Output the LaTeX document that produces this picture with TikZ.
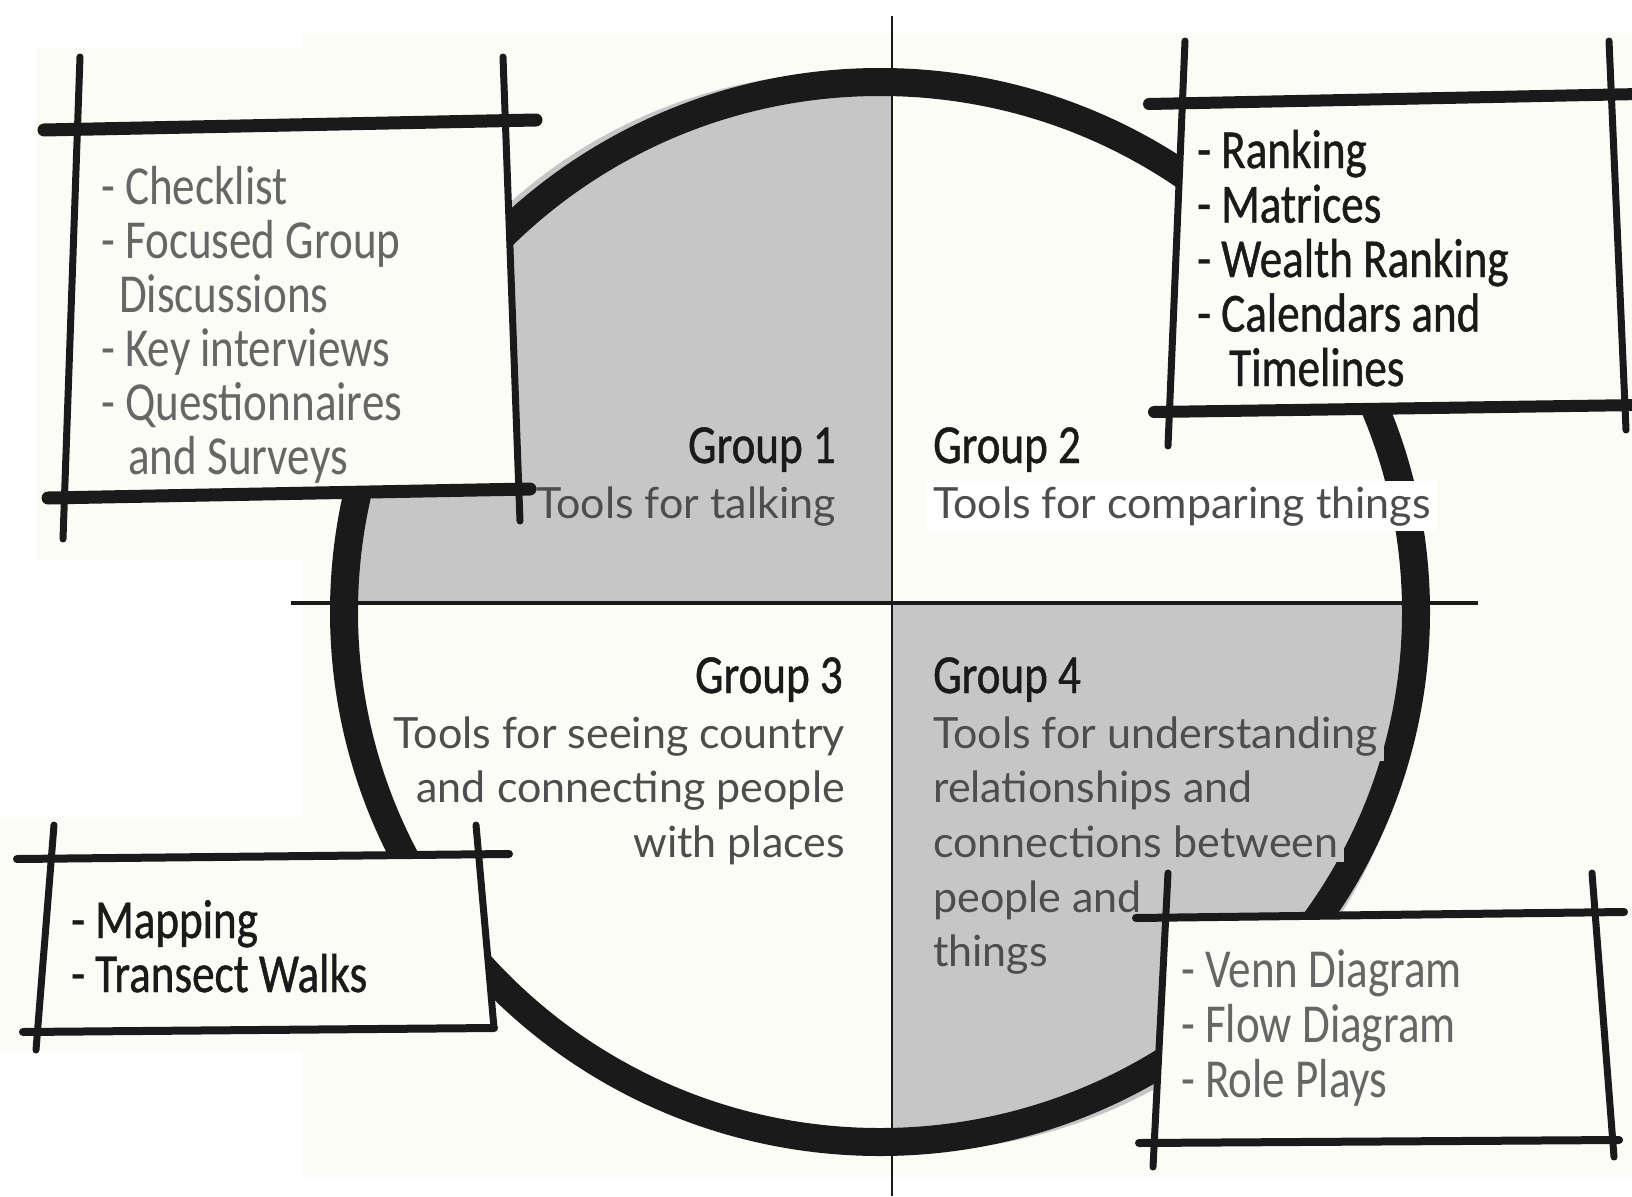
\documentclass[tikz,border=0pt]{standalone}
\usepackage{fontspec}
\setmainfont{Lato}
\newfontfamily\handfont[FakeStretch=0.82]{Carlito}
\newfontfamily\inkfont[FakeStretch=0.82, FakeBold=0.8]{Carlito}

\definecolor{ink}{HTML}{1A1A1A}
\definecolor{quadgray}{HTML}{C6C6C6}
\definecolor{paper}{HTML}{FCFCF6}
\definecolor{softgray}{HTML}{666666}
\definecolor{bodygray}{HTML}{4D4D4D}

\begin{document}
\begin{tikzpicture}[x=1pt, y=-1pt,
    hand/.style={font=\handfont\fontsize{55}{55}\selectfont, inner sep=0pt, anchor=base west},
    inkhand/.style={hand, font=\inkfont\fontsize{55}{55}\selectfont, text=ink},
    grouptitle/.style={font=\inkfont\fontsize{55}{55}\selectfont, text=ink, inner sep=0pt},
    body/.style={font=\fontsize{43}{54}\selectfont, text=bodygray, inner sep=0pt},
    bodyfill/.style={body, fill=#1, inner xsep=6pt, inner ysep=5pt, anchor=base west},
    rough/.style={draw=ink, line width=#1, line cap=round}
]
    \useasboundingbox (0,0) rectangle (1632,1196);

    % paper
    \fill[white] (0,0) rectangle (1632,1196);
    \fill[paper] (302,33) rectangle (1632,1177);
    \fill[paper] (36,48) rectangle (302,560);
    \fill[paper] (0,817) rectangle (302,1052);

    % shaded quarters
    \begin{scope}
        \clip (0,0) rectangle (892,603) (892,603) rectangle (1632,1196);
        \fill[quadgray, rotate around={-45:(880,612)}] (880,612) ellipse [x radius=552, y radius=528];
    \end{scope}

    % wheel and cross
    \draw[ink, line width=28] (880,612) ellipse [x radius=536, y radius=530];
    \draw[ink, line width=2] (892,16) -- (892,1196);
    \draw[ink, line width=3.5] (291,603) -- (1478,603);

    % group texts
    \node[grouptitle, anchor=base east] (g1) at (836,463) {Group 1};
    \node[body, anchor=base east] (g1t) at (836,518) {Tools for talking};

    \node[grouptitle, anchor=base west] (g2) at (933,463) {Group 2};
    \node[bodyfill=white] (g2t) at (927,518) {Tools for comparing things};

    \node[grouptitle, anchor=base east] (g3) at (843,693) {Group 3};
    \node[body, anchor=base east] (g3a) at (845,748) {Tools for seeing country};
    \node[body, anchor=base east] (g3b) at (845,802) {and connecting people};
    \node[body, anchor=base east] (g3c) at (845,857) {with places};

    \node[grouptitle, anchor=base west] (g4) at (933,693) {Group 4};
    \node[bodyfill=quadgray] (g4a) at (927,748) {Tools for understanding};
    \node[bodyfill=quadgray] (g4b) at (927,802) {relationships and};
    \node[bodyfill=quadgray] (g4c) at (927,857) {connections between};
    \node[bodyfill=quadgray] (g4d) at (927,912) {people and};
    \node[bodyfill=quadgray] (g4e) at (927,966) {things};

    % box 1 - talking
    \fill[paper] (78,128) -- (504,120) -- (519,491) -- (65,497) -- cycle;
    \draw[rough=13] (44,130) -- (536,120);
    \draw[rough=13] (48,498) -- (530,489);
    \draw[rough=7] (80,57) -- (63,539);
    \draw[rough=7] (503,57) -- (520,521);
    \foreach \txt [count=\i] in {- Checklist, - Focused Group, \hspace*{18pt}Discussions,
                                 - Key interviews, - Questionnaires, \hspace*{27pt}and Surveys}
        \node[hand, text=softgray] (b1-\i) at (101,{204+54*(\i-1)}) {\txt};

    % box 2 - comparing
    \fill[paper] (1183,103) -- (1632,94) -- (1632,406) -- (1169,411) -- cycle;
    \draw[rough=12] (1149,104) -- (1640,94);
    \draw[rough=12] (1154,412) -- (1640,405);
    \draw[rough=7] (1185,41) -- (1168,446);
    \draw[rough=7] (1609,41) -- (1626,430);
    \foreach \txt [count=\i] in {- Ranking, - Matrices, - Wealth Ranking,
                                 - Calendars and, \hspace*{32pt}Timelines}
        \node[inkhand] (b2-\i) at (1197,{168+54.5*(\i-1)}) {\txt};

    % box 3 - places
    \fill[paper] (52,858) -- (478,854) -- (493,1028) -- (38,1032) -- cycle;
    \draw[rough=8] (17,859) -- (509,854);
    \draw[rough=8] (23,1032) -- (494,1028);
    \draw[rough=7] (54,825) -- (36,1050);
    \draw[rough=7] (476,825) -- (494,1028);
    \foreach \txt [count=\i] in {- Mapping, - Transect Walks}
        \node[inkhand] (b3-\i) at (71,{938+54*(\i-1)}) {\txt};

    % box 4 - relationships
    \fill[paper] (1165,917) -- (1596,912) -- (1612,1140) -- (1155,1143) -- cycle;
    \draw[rough=8] (1136,918) -- (1624,912);
    \draw[rough=8] (1139,1143) -- (1619,1140);
    \draw[rough=7] (1168,873) -- (1153,1167);
    \draw[rough=7] (1592,873) -- (1614,1157);
    \foreach \txt [count=\i] in {- Venn Diagram, - Flow Diagram, - Role Plays}
        \node[hand, text=softgray] (b4-\i) at (1181,{987+55*(\i-1)}) {\txt};
\end{tikzpicture}
\end{document}
